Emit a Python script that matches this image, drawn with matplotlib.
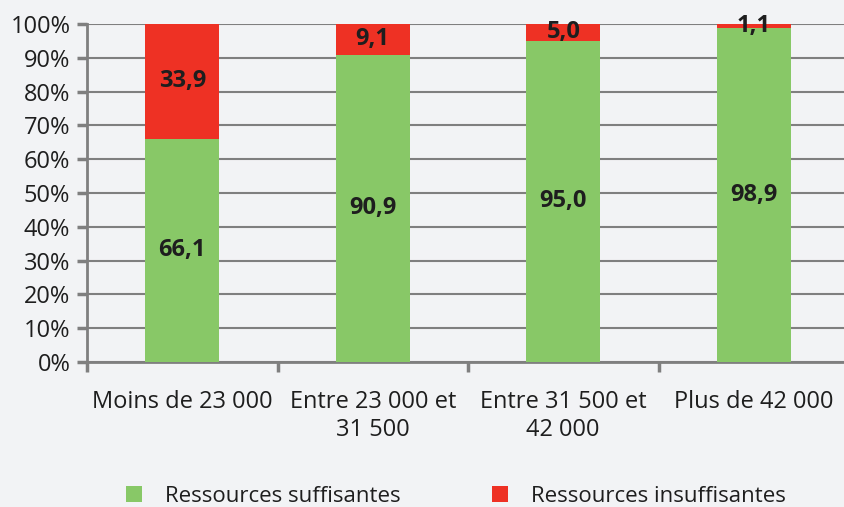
import matplotlib
matplotlib.use("Agg")
import matplotlib.pyplot as plt
from matplotlib.patches import Patch
import numpy as np

categories = ["Moins de 23 000", "Entre 23 000 et\n31 500", "Entre 31 500 et\n42 000", "Plus de 42 000"]
suffisantes = [66.1, 90.9, 95.0, 98.9]
insuffisantes = [33.9, 9.1, 5.0, 1.1]
series_names = ["Ressources suffisantes", "Ressources insuffisantes"]
yticks = [0, 10, 20, 30, 40, 50, 60, 70, 80, 90, 100]

plt.rcParams['font.family'] = ['Open Sans', 'DejaVu Sans']

bg = "#f2f3f5"
green = "#88c867"
red = "#ee3124"
grid_c = "#7f7f7f"
txt = "#1e1e1e"
fs = 17

W, H = 844, 507
fig = plt.figure(figsize=(W/100, H/100), dpi=100, facecolor=bg)
ax = fig.add_axes([87/W, 145/H, (849-87)/W, (362-24)/H])
ax.set_facecolor(bg)

x = np.arange(len(categories))
bw = 0.39
ax.bar(x, suffisantes, bw, color=green, zorder=3)
ax.bar(x, insuffisantes, bw, bottom=suffisantes, color=red, zorder=3)

for i in range(len(categories)):
    ax.text(x[i], suffisantes[i]/2, f"{suffisantes[i]:.1f}".replace(".", ","),
            ha="center", va="center", fontsize=fs, fontweight="bold", color=txt, zorder=4)
    ax.text(x[i], suffisantes[i] + insuffisantes[i]/2, f"{insuffisantes[i]:.1f}".replace(".", ","),
            ha="center", va="center", fontsize=fs, fontweight="bold", color=txt, zorder=4)

ax.set_xlim(-0.5, len(categories) - 0.5)
ax.set_ylim(0, 100)
ax.set_yticks(yticks)
ax.set_yticklabels([f"{v}%" for v in yticks], fontsize=fs, color=txt)
ax.yaxis.grid(True, color=grid_c, linewidth=1.5, zorder=0)
ax.set_axisbelow(True)

ax.set_xticks(x)
ax.set_xticklabels(categories, fontsize=fs, color=txt, linespacing=1.25)
ax.set_xticks(np.arange(-0.5, len(categories), 1), minor=True)
ax.tick_params(axis="x", which="major", length=0, pad=20)
ax.tick_params(axis="x", which="minor", length=7, width=2.5, color=grid_c, direction="out")
ax.tick_params(axis="y", length=7, width=2.5, color=grid_c, pad=5)

for s in ["top", "right"]:
    ax.spines[s].set_visible(False)
for s in ["left", "bottom"]:
    ax.spines[s].set_color(grid_c)
    ax.spines[s].set_linewidth(2)

handles = [Patch(facecolor=green, label=series_names[0]), Patch(facecolor=red, label=series_names[1])]
fig.legend(handles=handles, loc="center left", bbox_to_anchor=(126/W, (H-496)/H), ncol=2,
           frameon=False, fontsize=16, handlelength=0.72, handleheight=0.72,
           handletextpad=1.03, columnspacing=4.1, labelcolor=txt,
           borderpad=0, borderaxespad=0)

fig.savefig("out.png", dpi=100, facecolor=bg)
